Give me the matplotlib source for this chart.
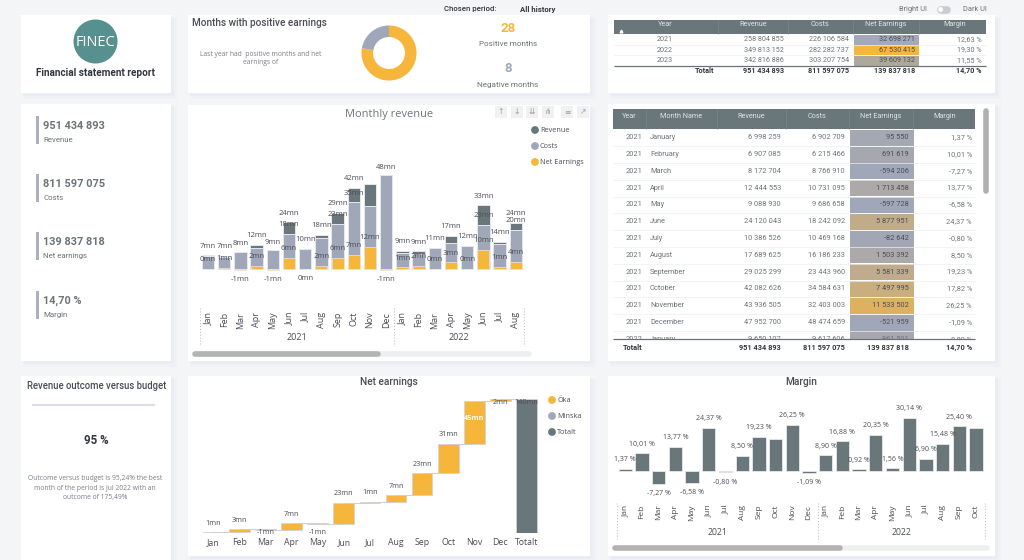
import numpy as np
import matplotlib
matplotlib.use("Agg")
import matplotlib.pyplot as plt
from matplotlib.patches import Rectangle, Circle
from matplotlib.colors import LinearSegmentedColormap, Normalize

# ---- data ----
years_top = ["2021", "2022", "2023"]
revenue_top = ["258 804 855", "349 813 152", "342 816 886"]
costs_top = ["226 106 584", "282 282 737", "303 207 754"]
net_top = ["32 698 271", "67 530 415", "39 609 132"]
margin_top = ["12,63 %", "19,30 %", "11,55 %"]
net_top_colors = ["#a3a9bb", "#f6b53b", "#aea89c"]

total_row = ["951 434 893", "811 597 075", "139 837 818", "14,70 %"]

month_names = ["January", "February", "March", "April", "May", "June", "July",
               "August", "September", "October", "November", "December"]
revenue_table = ["6 998 259", "6 907 085", "8 172 704", "12 444 553", "9 088 930", "24 120 043",
                 "10 386 526", "17 689 625", "29 025 299", "42 082 626", "43 936 505", "47 952 700"]
costs_table = ["6 902 709", "6 215 466", "8 766 910", "10 731 095", "9 686 658", "18 242 092",
               "10 469 168", "16 186 233", "23 443 960", "34 584 631", "32 403 003", "48 474 659"]
net_table = [95550, 691619, -594206, 1713458, -597728, 5877951,
             -82642, 1503392, 5581339, 7497995, 11533502, -521959]
margin_table = ["1,37 %", "10,01 %", "-7,27 %", "13,77 %", "-6,58 %", "24,37 %",
                "-0,80 %", "8,50 %", "19,23 %", "17,82 %", "26,25 %", "-1,09 %"]

kpi_values = ["951 434 893", "811 597 075", "139 837 818", "14,70 %"]
kpi_names = ["Revenue", "Costs", "Net earnings", "Margin"]

donut_counts = [28, 8]

months_rev = ["Jan", "Feb", "Mar", "Apr", "May", "Jun", "Jul", "Aug", "Sep", "Oct", "Nov", "Dec",
              "Jan", "Feb", "Mar", "Apr", "May", "Jun", "Jul", "Aug"]
rev_mn = [7.0, 6.9, 8.2, 12.4, 9.1, 24.1, 10.4, 17.7, 29.0, 42.1, 43.9, 48.0,
          9.3, 9.2, 11.0, 17.2, 12.0, 33.0, 14.0, 24.0]
cost_mn = [6.9, 6.2, 8.8, 10.7, 9.7, 18.2, 10.5, 16.2, 23.4, 34.6, 32.4, 48.5,
           8.4, 7.7, 10.9, 13.7, 11.8, 23.0, 13.0, 20.3]
net_mn = [0.1, 0.7, -0.6, 1.7, -0.6, 5.9, -0.1, 1.5, 5.6, 7.5, 11.5, -0.5,
          0.8, 1.6, 0.1, 3.5, 0.2, 10.0, 1.0, 3.7]
rev_labels = ["7mn", "7mn", "8mn", "12mn", "9mn", "24mn", "10mn", "18mn", "29mn", "42mn", "", "48mn",
              "9mn", "9mn", "11mn", "17mn", "12mn", "33mn", "14mn", "24mn"]
cost_labels = ["", "", "", "", "", "18mn", "", "", "23mn", "35mn", "", "",
               "", "", "", "", "", "23mn", "", "20mn"]
net_labels = ["0mn", "1mn", "-1mn", "2mn", "-1mn", "6mn", "0mn", "2mn", "6mn", "7mn", "12mn", "-1mn",
              "1mn", "2mn", "0mn", "3mn", "0mn", "10mn", "1mn", "4mn"]

wf_months = ["Jan", "Feb", "Mar", "Apr", "May", "Jun", "Jul", "Aug", "Sep", "Oct", "Nov", "Dec"]
wf_steps = [0.7, 3.0, -0.6, 6.9, -0.8, 22.6, 0.9, 7.0, 22.8, 30.8, 44.6, 1.9]
wf_labels = ["1mn", "3mn", "-1mn", "7mn", "-1mn", "23mn", "1mn", "7mn", "23mn", "31mn", "45mn", "2mn"]
wf_total = 139.8

months_margin = ["Jan", "Feb", "Mar", "Apr", "May", "Jun", "Jul", "Aug", "Sep", "Oct", "Nov", "Dec",
                 "Jan", "Feb", "Mar", "Apr", "May", "Jun", "Jul", "Aug", "Sep", "Oct"]
margin_vals = [1.37, 10.01, -7.27, 13.77, -6.58, 24.37, -0.80, 8.50, 19.23, 17.82, 26.25, -1.09,
               8.90, 16.88, 0.92, 20.35, 1.56, 30.14, 6.90, 15.48, 25.40, 24.1]
margin_labels = ["1,37 %", "10,01 %", "-7,27 %", "13,77 %", "-6,58 %", "24,37 %", "-0,80 %", "8,50 %",
                 "19,23 %", "", "26,25 %", "-1,09 %", "8,90 %", "16,88 %", "0,92 %", "20,35 %",
                 "1,56 %", "30,14 %", "6,90 %", "15,48 %", "25,40 %", ""]

# colours
DARK = "#69777a"
GREY = "#a0a7b8"
ORANGE = "#f6b53b"
TXT = "#4a4d55"
TXT2 = "#6d7478"
EDGE = "#e6e8ee"

plt.rcParams["font.family"] = ["Roboto", "DejaVu Sans"]
W, H = 1024, 560
fig = plt.figure(figsize=(W / 100, H / 100), dpi=100, facecolor="#f4f5f7")

# whole figure axes in pixels, y going down
bg = fig.add_axes([0, 0, 1, 1])
bg.set_xlim(0, W)
bg.set_ylim(H, 0)
bg.axis("off")


def px_axes(x0, y0, x1, y1):
    ax = fig.add_axes([x0 / W, 1 - y1 / H, (x1 - x0) / W, (y1 - y0) / H])
    ax.patch.set_alpha(0)
    for s in ax.spines.values():
        s.set_visible(False)
    return ax


def card(x0, y0, x1, y1):
    for off, a in [(6, 0.25), (3, 0.4)]:
        bg.add_patch(Rectangle((x0 + off / 2, y0 + off / 2), x1 - x0 + off / 2, y1 - y0 + off / 2,
                               fc="#e4e7f0", ec="none", alpha=a, zorder=1))
    bg.add_patch(Rectangle((x0, y0), x1 - x0, y1 - y0, fc="white", ec="none", zorder=2))


def t(x, y, s, size=6, color=TXT, ha="center", weight="normal", family=None, z=5):
    return bg.text(x, y, s, fontsize=size, color=color, ha=ha, va="center", fontweight=weight,
                   zorder=z, family=family if family else ["Roboto", "DejaVu Sans"])


def box(x0, y0, x1, y1, c, z=3):
    bg.add_patch(Rectangle((x0, y0), x1 - x0, y1 - y0, fc=c, ec="none", zorder=z))


def hline(x0, x1, y, c, lw=0.8, z=4):
    bg.plot([x0, x1], [y, y], color=c, lw=lw, zorder=z, solid_capstyle="butt")


def vdots(x, y0, y1):
    bg.plot([x, x], [y0, y1], color="#b5b8bd", lw=0.7, ls=(0, (1, 2)), zorder=4)


def scrollbar(x0, x1, x2, y):
    bg.plot([x0, x2], [y, y], color="#eeeff1", lw=4, solid_capstyle="round", zorder=4)
    bg.plot([x0, x1], [y, y], color="#b3b3b3", lw=4, solid_capstyle="round", zorder=5)


card(21, 15, 171, 93)
card(188, 15, 590, 93)
card(608, 15, 995, 93)
card(21, 104, 171, 361)
card(188, 105, 590, 361)
card(608, 104, 995, 361)
card(21, 376, 171, 560)
card(188, 376, 590, 556)
card(608, 376, 995, 556)

# logo card
bg.add_patch(Circle((95.5, 41.5), 22, fc="#56908f", ec="none", zorder=3))
t(95.5, 42, "FINEC", 10.5, "white", family=["Open Sans"])
t(96, 73, "Financial statement report", 7.2, "#33363d", weight="bold")

# header strip
t(470, 9.5, "Chosen period:", 5.6, "#33363d", weight="medium")
t(538, 9.5, "All history", 5.6, "#33363d", weight="bold")
t(913, 9.5, "Bright UI", 5.3, TXT2)
t(975, 9.5, "Dark UI", 5.3, TXT2)
bg.plot([941, 947], [9.5, 9.5], color="#c9ccd1", lw=5.5, solid_capstyle="round", zorder=4)
bg.add_patch(Circle((940.5, 9.5), 2.8, fc="white", ec="#c9ccd1", lw=0.5, zorder=5))

# donut card
t(192, 23, "Months with positive earnings", 7.2, TXT, ha="left", weight="medium")
t(261, 54.5, "Last year had  positive months and net", 4.9, "#7a7d85", family=["Open Sans"])
t(261, 63, "earnings of", 4.9, "#7a7d85", family=["Open Sans"])
ax_d = px_axes(359, 23, 419, 83)
ax_d.pie(donut_counts, colors=[ORANGE, GREY], startangle=90, counterclock=False,
         radius=1.0, wedgeprops=dict(width=0.42))
ax_d.set_xlim(-1.09, 1.09)
ax_d.set_ylim(-1.09, 1.09)
t(508, 28, str(donut_counts[0]), 9.5, ORANGE, weight="bold")
t(508, 44.5, "Positive months", 5.9, TXT2)
t(508, 68, str(donut_counts[1]), 9.5, GREY, weight="bold")
t(508, 85, "Negative months", 5.9, TXT2)

# top table
box(614, 20, 986, 34, DARK)
for x in [718, 788, 853, 919]:
    bg.plot([x, x], [20, 34], color="#7f8b8e", lw=0.4, zorder=4)
for x, s in zip([665, 753, 820, 886, 955], ["Year", "Revenue", "Costs", "Net Earnings", "Margin"]):
    t(x, 24.5, s, 5.2, "#e3e6e6")
bg.plot([620.5], [31], marker="^", ms=2, color="white", zorder=5)
for i in range(3):
    y = 39.7 + i * 10.4
    box(854, y - 5, 919, y + 5, net_top_colors[i])
    t(665, y, years_top[i], 5.2, TXT2)
    t(784, y, revenue_top[i], 5.2, TXT2, ha="right")
    t(849, y, costs_top[i], 5.2, TXT2, ha="right")
    t(915, y, net_top[i], 5.2, TXT, ha="right")
    t(982, y, margin_top[i], 5.2, TXT2, ha="right")
    hline(614, 986, y + 5.2, "#eceef1", 0.5)
hline(614, 986, 65.5, "#6b7178", 0.9, z=6)
t(714, 71, "Totalt", 5.2, "#33363d", ha="right", weight="bold")
for x, s in zip([784, 849, 915, 982], total_row):
    t(x, 71, s, 5.2, "#33363d", ha="right", weight="bold")

# kpi card
for i in range(4):
    y = [116, 174, 232, 291][i]
    box(36, y, 39, y + 28, "#aab0c0")
    t(43, y + 10, kpi_values[i], 7.8, TXT2, ha="left", weight="bold")
    t(43, y + 24, kpi_names[i], 5.7, TXT2, ha="left")

# monthly revenue chart
t(389, 114, "Monthly revenue", 7.9, TXT2, family=["Open Sans"])
for x, s in zip([501, 517, 532, 548, 567, 583], ["↑", "↓", "⇊", "⋔", "≡", "↗"]):
    box(x - 6, 106, x + 6, 118, "#f1f1f2")
    t(x, 112, s, 5.5, "#9a9a9a", family=["DejaVu Sans"])
for y, s, c in zip([130, 146, 162], ["Revenue", "Costs", "Net Earnings"], [DARK, GREY, ORANGE]):
    bg.add_patch(Circle((535, y), 3.9, fc=c, ec="none", zorder=4))
    t(540, y, s, 5.2, TXT, ha="left", family=["Open Sans"])

ax_r = px_axes(199, 170, 524, 300)
idx = np.arange(len(months_rev))
ax_r.set_xlim(-9 / 16.2, (524 - 208) / 16.2)
ax_r.set_ylim(-31 / 1.93, 99 / 1.93)
ax_r.bar(idx, rev_mn, width=0.76, color=DARK, edgecolor=EDGE, linewidth=0.7)
ax_r.bar(idx, cost_mn, width=0.76, color=GREY, edgecolor=EDGE, linewidth=0.7)
ax_r.bar(idx, net_mn, width=0.74, color=ORANGE, edgecolor=EDGE, linewidth=0.5)
off = 9.2 / 1.93
for i in idx:
    kw = dict(ha="center", va="center", fontsize=5.5, color=TXT, family=["Open Sans"])
    if rev_labels[i]:
        ax_r.text(i, rev_mn[i] + off, rev_labels[i], **kw)
    if cost_labels[i]:
        ax_r.text(i, cost_mn[i] + off, cost_labels[i], **kw)
    if net_mn[i] < 0:
        ax_r.text(i, min(net_mn[i], 0) - off, net_labels[i], **kw)
    else:
        ax_r.text(i, net_mn[i] + off, net_labels[i], **kw)
ax_r.set_xticks(idx)
ax_r.set_xticklabels(months_rev, rotation=90, fontsize=6.5, color=TXT, family=["Open Sans"])
ax_r.tick_params(axis="x", length=0, pad=8.5)
ax_r.set_yticks([])
for x in [200, 394, 524]:
    vdots(x, 308, 346)
t(297, 338, "2021", 6.5, TXT, family=["Open Sans"])
t(459, 338, "2022", 6.5, TXT, family=["Open Sans"])
scrollbar(195, 378, 529, 354)

# monthly table
box(613, 109, 975, 129, DARK)
for x in [646, 717, 786, 849, 913]:
    bg.plot([x, x], [109, 129], color="#7f8b8e", lw=0.4, zorder=4)
for x, s in zip([629, 681, 751, 817, 881, 945],
                ["Year", "Month Name", "Revenue", "Costs", "Net Earnings", "Margin"]):
    t(x, 116.5, s, 5.2, "#dfe3e3")
norm = Normalize(-600000, 11533502)
cmap = LinearSegmentedColormap.from_list("net", ["#a0a7b8", "#deb161"])
row_step = 16.8
for i in range(12):
    y = 137.7 + i * row_step
    box(850, y - 8, 913.5, y + 8, cmap(norm(net_table[i])))
    t(642, y, "2021", 5.3, TXT2, ha="right")
    t(650, y, month_names[i], 5.3, TXT2, ha="left")
    t(781, y, revenue_table[i], 5.3, TXT2, ha="right")
    t(845, y, costs_table[i], 5.3, TXT2, ha="right")
    t(909, y, f"{net_table[i]:,}".replace(",", " "), 5.3, TXT, ha="right")
    t(972, y, margin_table[i], 5.3, TXT2, ha="right")
    hline(613, 975, y + 8.4, "#eceef1", 0.5)
# partly hidden row at the bottom of the scroll area
y = 137.7 + 12 * row_step
box(850, y - 8, 913.5, y + 8, cmap(norm(861501)))
for x, s, ha in [(642, "2022", "right"), (650, "January", "left"), (781, "9 650 107", "right"),
                 (845, "9 617 606", "right"), (909, "861 501", "right"), (972, "8,90 %", "right")]:
    t(x, y, s, 5.3, TXT2, ha=ha)
box(613, 339, 975, 361, "white", z=6)
hline(613, 975, 339, "#6b7178", 0.9, z=7)
t(642, 348, "Totalt", 5.3, "#33363d", ha="right", weight="bold", z=7)
for x, s in zip([781, 845, 909, 972], total_row):
    t(x, 348, s, 5.3, "#33363d", ha="right", weight="bold", z=7)
bg.plot([986, 986], [111, 191], color="#b0afad", lw=4, solid_capstyle="round", zorder=4)

# budget card
t(97, 386, "Revenue outcome versus budget", 6.85, TXT, weight="medium")
hline(32, 155, 405, "#dcdde6", 1.5)
t(96, 441, "95 %", 8.3, "#33363d", weight="bold")
for y, s in zip([479, 488, 497], ["Outcome versus budget is 95,24% the best",
                                  "month of the period is Jul 2022 with an",
                                  "outcome of 175,49%"]):
    t(95, y, s, 4.9, "#7a7d85", family=["Open Sans"])

# waterfall
t(389, 382, "Net earnings", 7.3, TXT, weight="medium")
for y, s, c in zip([400, 416, 432], ["Öka", "Minska", "Totalt"], [ORANGE, GREY, DARK]):
    bg.add_patch(Circle((552, y), 3.9, fc=c, ec="none", zorder=4))
    t(557, y, s, 5.2, TXT, ha="left", family=["Open Sans"])

ax_w = px_axes(200, 392, 541, 533)
wf_px = 0.955
ax_w.set_xlim(-13.3 / 26.1, (541 - 213.3) / 26.1)
ax_w.set_ylim(0, (533 - 392) / wf_px)
steps = np.array(wf_steps)
ends = np.cumsum(steps)
starts = ends - steps
wf_idx = np.arange(len(steps))
ax_w.bar(wf_idx, steps, bottom=starts, width=0.79,
         color=[ORANGE if v > 0 else GREY for v in steps], edgecolor="#d4d4d4", linewidth=0.6)
ax_w.bar([len(steps)], [wf_total], width=0.79, color=DARK, edgecolor="#d4d4d4", linewidth=0.6)
for i in wf_idx:
    ax_w.plot([i, i + 1], [ends[i], ends[i]], color="#cfcfcf", lw=0.7, zorder=1)
lab = dict(ha="center", va="center", fontsize=5.2, family=["Open Sans"], clip_on=False)
for i in wf_idx:
    s = wf_labels[i]
    if s == "45mn":
        ax_w.text(i, ends[i] - 18, s, color="white", fontweight="bold", **lab)
    elif s == "2mn":
        ax_w.text(i, ends[i] - 3, s, color=TXT, **lab)
    elif steps[i] < 0:
        ax_w.text(i, max(ends[i] - 8.4, 0), s, color=TXT, **lab)
    else:
        ax_w.text(i, ends[i] + 9.4, s, color=TXT, **lab)
ax_w.text(len(steps), wf_total - 3, "140mn", color=TXT, **lab)
ax_w.set_xticks(np.arange(len(steps) + 1))
ax_w.set_xticklabels(wf_months + ["Totalt"], fontsize=6.3, color=TXT, family=["Open Sans"])
ax_w.tick_params(axis="x", length=0, pad=3.5)
ax_w.set_yticks([])

# margin chart
t(801, 382, "Margin", 7.3, TXT, weight="medium")
ax_m = px_axes(617, 395, 985, 495)
m_idx = np.arange(len(months_margin))
ax_m.set_xlim((617 - 625.3) / 16.7, (985 - 625.3) / 16.7)
ax_m.set_ylim(-24 / 1.77, 76 / 1.77)
ax_m.bar(m_idx, margin_vals, width=0.8, color=DARK, edgecolor=EDGE, linewidth=0.6)
for i in m_idx:
    if margin_labels[i]:
        v = margin_vals[i]
        yy = v + 5.1 if v > 0 else v - 5.5
        ax_m.text(i, yy, margin_labels[i], ha="center", va="center", fontsize=5.0, color=TXT,
                  family=["Open Sans"])
ax_m.set_xticks(m_idx)
ax_m.set_xticklabels(months_margin, rotation=90, fontsize=6.0, color=TXT, family=["Open Sans"])
ax_m.tick_params(axis="x", length=0, pad=7)
ax_m.set_yticks([])
for x in [617, 818, 985]:
    vdots(x, 503, 541)
t(718, 532.5, "2021", 6.2, TXT, family=["Open Sans"])
t(902, 532.5, "2022", 6.2, TXT, family=["Open Sans"])
scrollbar(615, 840, 987, 548)

fig.savefig("out.png", dpi=100, facecolor=fig.get_facecolor())
